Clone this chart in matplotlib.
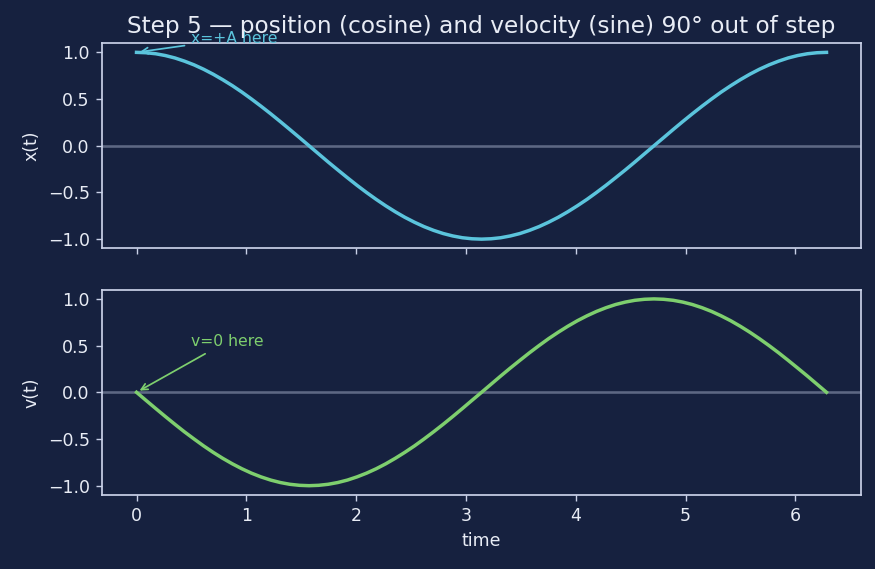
import matplotlib
matplotlib.use("Agg")
import matplotlib.pyplot as plt

time = [0.000, 0.087, 0.175, 0.262, 0.349, 0.436, 0.524, 0.611, 0.698, 0.785,
        0.873, 0.960, 1.047, 1.134, 1.222, 1.309, 1.396, 1.484, 1.571, 1.658,
        1.745, 1.833, 1.920, 2.007, 2.094, 2.182, 2.269, 2.356, 2.443, 2.531,
        2.618, 2.705, 2.793, 2.880, 2.967, 3.054, 3.142, 3.229, 3.316, 3.403,
        3.491, 3.578, 3.665, 3.752, 3.840, 3.927, 4.014, 4.102, 4.189, 4.276,
        4.363, 4.451, 4.538, 4.625, 4.712, 4.800, 4.887, 4.974, 5.061, 5.149,
        5.236, 5.323, 5.411, 5.498, 5.585, 5.672, 5.760, 5.847, 5.934, 6.021,
        6.109, 6.196, 6.283]
position = [1.000, 0.996, 0.985, 0.966, 0.940, 0.906, 0.866, 0.819, 0.766, 0.707,
            0.643, 0.574, 0.500, 0.423, 0.342, 0.259, 0.174, 0.087, 0.000,
            -0.087, -0.174, -0.259, -0.342, -0.423, -0.500, -0.574, -0.643, -0.707,
            -0.766, -0.819, -0.866, -0.906, -0.940, -0.966, -0.985, -0.996, -1.000,
            -0.996, -0.985, -0.966, -0.940, -0.906, -0.866, -0.819, -0.766, -0.707,
            -0.643, -0.574, -0.500, -0.423, -0.342, -0.259, -0.174, -0.087, 0.000,
            0.087, 0.174, 0.259, 0.342, 0.423, 0.500, 0.574, 0.643, 0.707,
            0.766, 0.819, 0.866, 0.906, 0.940, 0.966, 0.985, 0.996, 1.000]
velocity = [0.000, -0.087, -0.174, -0.259, -0.342, -0.423, -0.500, -0.574, -0.643, -0.707,
            -0.766, -0.819, -0.866, -0.906, -0.940, -0.966, -0.985, -0.996, -1.000,
            -0.996, -0.985, -0.966, -0.940, -0.906, -0.866, -0.819, -0.766, -0.707,
            -0.643, -0.574, -0.500, -0.423, -0.342, -0.259, -0.174, -0.087, 0.000,
            0.087, 0.174, 0.259, 0.342, 0.423, 0.500, 0.574, 0.643, 0.707,
            0.766, 0.819, 0.866, 0.906, 0.940, 0.966, 0.985, 0.996, 1.000,
            0.996, 0.985, 0.966, 0.940, 0.906, 0.866, 0.819, 0.766, 0.707,
            0.643, 0.574, 0.500, 0.423, 0.342, 0.259, 0.174, 0.087, 0.000]

BG = "#16213f"
FG = "#e8ecf5"
SPINE = "#c9d1e8"
CYAN = "#5bc4dc"
GREEN = "#7ecf6e"
ZERO = "#5d6783"

plt.rcParams.update({
    "font.family": ["DejaVu Sans"],
    "text.color": FG,
    "axes.labelcolor": FG,
    "xtick.color": SPINE,
    "ytick.color": SPINE,
    "xtick.labelcolor": FG,
    "ytick.labelcolor": FG,
    "axes.edgecolor": SPINE,
})

fig, (ax1, ax2) = plt.subplots(2, 1, sharex=True, figsize=(7, 4.552), dpi=125)
fig.patch.set_facecolor(BG)
fig.subplots_adjust(left=0.1166, right=0.984, top=0.9244, bottom=0.130, hspace=0.2)

for ax in (ax1, ax2):
    ax.set_facecolor(BG)
    ax.axhline(0, color=ZERO, lw=1.5, zorder=1)
    for s in ax.spines.values():
        s.set_color(SPINE)
        s.set_linewidth(1.0)

ax1.plot(time, position, color=CYAN, lw=2.0, zorder=3)
ax2.plot(time, velocity, color=GREEN, lw=2.0, zorder=3)

ax1.set_ylabel("x(t)")
ax2.set_ylabel("v(t)")
ax2.set_xlabel("time")
ax1.set_title("Step 5 \u2014 position (cosine) and velocity (sine) 90\u00b0 out of step",
              fontsize=13.4, color=FG)

ax1.annotate("x=+A here", xy=(time[0], position[0]), xytext=(0.5, 1.1),
             color=CYAN, fontsize=9,
             arrowprops=dict(arrowstyle="->", color=CYAN, lw=1.0))
ax2.annotate("v=0 here", xy=(time[0], velocity[0]), xytext=(0.5, 0.5),
             color=GREEN, fontsize=9,
             arrowprops=dict(arrowstyle="->", color=GREEN, lw=1.0))

fig.savefig("out.png", dpi=125, facecolor=BG)
